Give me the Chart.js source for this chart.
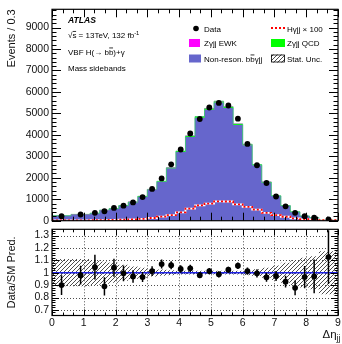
<!DOCTYPE html>
<html><head><meta charset="utf-8">
<script src="https://cdn.jsdelivr.net/npm/chart.js@4"></script>
<style>
html,body{margin:0;padding:0;background:#fff;width:342px;height:344px;overflow:hidden}
canvas{position:absolute;left:0}
#c1{top:0}#c2{top:220px}
</style></head><body>
<canvas id="c1" width="342" height="230"></canvas>
<canvas id="c2" width="342" height="124"></canvas>
<script>
// ---- data ----
const binEdges = [0,0.6,1.2,1.5,1.8,2.1,2.4,2.7,3.0,3.3,3.6,3.9,4.2,4.5,4.8,5.1,5.4,5.7,6.0,6.3,6.6,6.9,7.2,7.5,7.8,8.1,8.4,9.0];
const dataEvents = [211,289,367,440,596,702,853,1100,1482,1972,2628,3317,4064,4739,5275,5486,5367,4752,3578,2583,1757,1128,670,367,211,138,60];
const nonReson = [229,289,344,484,562,693,863,1121,1439,1813,2440,3203,3904,4793,5168,5504,5247,4457,3520,2583,1784,1148,694,409,218,137,53];
const zgQCD = [4,5,6,8,9,11,13,16,20,25,32,40,48,58,62,66,63,54,43,32,22,14,9,5,3,2,1];
const zgEWK = [1,1,1,2,2,2,3,3,4,5,6,7,8,9,10,10,10,9,7,5,4,3,2,1,1,1,0];
const higgsX100 = [15,18,22,28,35,45,60,85,125,190,257,385,560,716,800,900,895,761,642,518,367,257,183,105,73,60,30];
const ratio = [0.90,0.98,1.045,0.89,1.04,0.995,0.97,0.965,1.013,1.07,1.06,1.03,1.035,0.98,1.013,0.987,1.024,1.056,1.013,0.995,0.963,0.973,0.928,0.878,0.965,0.97,1.126];
const ratioErr = [0.08,0.076,0.1,0.073,0.073,0.063,0.05,0.04,0.04,0.036,0.033,0.03,0.03,0.025,0.025,0.025,0.025,0.027,0.03,0.033,0.036,0.04,0.047,0.06,0.09,0.136,0.217];
const statUnc = [0.11,0.11,0.1,0.09,0.08,0.065,0.05,0.04,0.03,0.025,0.02,0.015,0.015,0.015,0.015,0.015,0.015,0.015,0.02,0.027,0.04,0.058,0.08,0.1,0.12,0.133,0.173];
const xTickLabels = [0,1,2,3,4,5,6,7,8,9];
const yTickLabels = [0,1000,2000,3000,4000,5000,6000,7000,8000,9000];
const ratioTickLabels = [0.7,0.8,0.9,1,1.1,1.2,1.3];

// ---- styling ----
const FONT = '"Liberation Sans", Arial, Helvetica, sans-serif';
const BLUE = '#6666cc';
const N = binEdges.length - 1;
const centers = binEdges.slice(0, N).map((e, i) => (e + binEdges[i + 1]) / 2);
function histPts(vals) {
  const pts = vals.map((v, i) => ({x: binEdges[i], y: v}));
  pts.push({x: binEdges[N], y: vals[N - 1]});
  return pts;
}
const cumQCD = nonReson.map((v, i) => v + zgQCD[i]);
const cumEWK = cumQCD.map((v, i) => v + zgEWK[i]);

function makeHatch(ctx) {
  const pc = document.createElement('canvas');
  pc.width = 4; pc.height = 4;
  const p = pc.getContext('2d');
  p.strokeStyle = '#3a3a3a'; p.lineWidth = 0.9;
  p.beginPath();
  p.moveTo(0, 4); p.lineTo(4, 0);
  p.moveTo(-1, 1); p.lineTo(1, -1);
  p.moveTo(3, 5); p.lineTo(5, 3);
  p.stroke();
  return ctx.createPattern(pc, 'repeat');
}

function rich(ctx, x, base, parts, size) {
  let cx = x;
  for (const p of parts) {
    const fs = (p.sup || p.sub) ? size * 0.72 : size;
    ctx.font = (p.italic ? 'italic ' : '') + (p.bold ? 'bold ' : '') + fs + 'px ' + FONT;
    const dy = p.sup ? -size * 0.42 : (p.sub ? size * 0.28 : 0);
    ctx.fillText(p.t, cx, base + dy);
    const w = ctx.measureText(p.t).width;
    if (p.bar) {
      ctx.save(); ctx.strokeStyle = ctx.fillStyle; ctx.lineWidth = 0.8;
      ctx.beginPath(); ctx.moveTo(cx + 0.3, base - size * 0.82); ctx.lineTo(cx + w - 0.3, base - size * 0.82); ctx.stroke();
      ctx.restore();
    }
    cx += w;
  }
  return cx;
}

function frameTicks(cfg) {
  return {
    id: 'frameTicks',
    beforeDatasetsDraw(chart) {
      if (!cfg.grid) return;
      const {ctx, chartArea: a, scales: {x, y}} = chart;
      ctx.save();
      ctx.strokeStyle = '#000'; ctx.lineWidth = 0.7; ctx.setLineDash([1, 2]);
      ctx.beginPath();
      for (const v of xTickLabels) {
        if (v <= x.min || v >= x.max) continue;
        const px = Math.round(x.getPixelForValue(v)) + 0.5;
        ctx.moveTo(px, a.top); ctx.lineTo(px, a.bottom);
      }
      for (const v of ratioTickLabels) {
        const py = Math.round(y.getPixelForValue(v)) + 0.5;
        ctx.moveTo(a.left, py); ctx.lineTo(a.right, py);
      }
      ctx.stroke();
      ctx.restore();
    },
    afterDatasetsDraw(chart) {
      const {ctx, chartArea: a, scales: {x, y}} = chart;
      ctx.save();
      ctx.strokeStyle = '#000'; ctx.lineWidth = 1;
      ctx.beginPath();
      for (let k = 0; k <= 27; k++) {
        const v = k / 3;
        const px = Math.round(x.getPixelForValue(v)) + 0.5;
        const L = (k % 3 === 0) ? cfg.xL : cfg.xl;
        ctx.moveTo(px, a.bottom); ctx.lineTo(px, a.bottom - L);
        ctx.moveTo(px, a.top); ctx.lineTo(px, a.top + L);
      }
      for (const t of cfg.yTicks(y)) {
        const py = Math.round(y.getPixelForValue(t.v)) + 0.5;
        const L = t.major ? cfg.yL : cfg.yl;
        ctx.moveTo(a.left, py); ctx.lineTo(a.left + L, py);
        ctx.moveTo(a.right, py); ctx.lineTo(a.right - L, py);
      }
      ctx.stroke();
      ctx.lineWidth = 1.2;
      ctx.strokeRect(a.left, a.top, a.right - a.left, a.bottom - a.top);
      ctx.restore();
    }
  };
}

// ---------- main panel ----------
const c1 = document.getElementById('c1').getContext('2d');
const hatch1 = makeHatch(c1);

const infoPlugin = {
  id: 'info',
  afterDraw(chart) {
    const ctx = chart.ctx;
    ctx.save();
    ctx.fillStyle = '#000';
    ctx.textBaseline = 'alphabetic';
    ctx.textAlign = 'left';
    // ATLAS block
    rich(ctx, 68, 23, [{t: 'ATLAS', bold: true, italic: true}], 8.6);
    let cx = rich(ctx, 68, 38, [{t: '\u221A'}], 8);
    rich(ctx, cx, 38, [{t: 's', bar: true}, {t: ' = 13TeV, 132 fb'}, {t: '-1', sup: true}], 8);
    rich(ctx, 68, 54.5, [{t: 'VBF H(\u2192 b'}, {t: 'b', bar: true}, {t: ')+\u03B3'}], 8);
    rich(ctx, 68, 71, [{t: 'Mass sidebands'}], 8);
    // legend
    const r1 = 28.5, r2 = 43, r3 = 58.5;
    ctx.beginPath(); ctx.arc(196, r1, 2.8, 0, Math.PI * 2); ctx.fill();
    rich(ctx, 204, r1 + 3, [{t: 'Data'}], 8);
    ctx.fillStyle = '#ff00ff'; ctx.fillRect(189, r2 - 4, 11, 8);
    ctx.fillStyle = '#000';
    rich(ctx, 204, r2 + 3, [{t: 'Z\u03B3jj EWK'}], 8);
    ctx.fillStyle = BLUE; ctx.fillRect(189, r3 - 4, 12, 8);
    ctx.fillStyle = '#000';
    rich(ctx, 204, r3 + 3, [{t: 'Non-reson. b'}, {t: 'b', bar: true}, {t: '\u03B3jj'}], 8);
    // right column
    ctx.save();
    ctx.strokeStyle = '#ffffff'; ctx.lineWidth = 2;
    ctx.beginPath(); ctx.moveTo(271, r1 - 0.5); ctx.lineTo(285, r1 - 0.5); ctx.stroke();
    ctx.strokeStyle = '#ff0000'; ctx.setLineDash([2, 2]);
    ctx.beginPath(); ctx.moveTo(271, r1 - 0.5); ctx.lineTo(285, r1 - 0.5); ctx.stroke();
    ctx.restore();
    rich(ctx, 287, r1 + 3, [{t: 'H\u03B3jj \u00D7 100'}], 8);
    ctx.fillStyle = '#00ff00'; ctx.fillRect(271, r2 - 4, 14, 8);
    ctx.fillStyle = '#000';
    rich(ctx, 287, r2 + 3, [{t: 'Z\u03B3jj QCD'}], 8);
    ctx.fillStyle = hatch1; ctx.fillRect(271, r3 - 4, 14, 8);
    ctx.strokeStyle = '#000'; ctx.lineWidth = 0.8; ctx.strokeRect(271.5, r3 - 3.5, 13, 7);
    ctx.fillStyle = '#000';
    rich(ctx, 287, r3 + 3, [{t: 'Stat. Unc.'}], 8);
    ctx.restore();
  }
};

new Chart(c1, {
  type: 'line',
  data: {
    datasets: [
      {label: 'Data', data: centers.map((c, i) => ({x: c, y: dataEvents[i]})), showLine: false,
       pointRadius: 2.9, pointBackgroundColor: '#000', pointBorderWidth: 0, borderColor: '#000'},
      {label: 'Hyjj red', data: histPts(higgsX100), stepped: true, fill: false, borderColor: '#ff0000',
       borderDash: [2, 2], borderWidth: 1.8, pointRadius: 0},
      {label: 'Hyjj white', data: histPts(higgsX100), stepped: true, fill: false, borderColor: '#ffffff',
       borderWidth: 1.8, pointRadius: 0},
      {label: 'Zyjj EWK', data: histPts(cumEWK), stepped: true, fill: '+1', backgroundColor: '#ff00ff',
       borderWidth: 0, borderColor: '#ff00ff', pointRadius: 0},
      {label: 'Zyjj QCD', data: histPts(cumQCD), stepped: true, fill: '+1', backgroundColor: '#00ff00',
       borderColor: '#33cc66', borderWidth: 0.8, pointRadius: 0},
      {label: 'Non-reson', data: histPts(nonReson), stepped: true, fill: 'origin', backgroundColor: BLUE,
       borderColor: BLUE, borderWidth: 0.5, pointRadius: 0}
    ]
  },
  options: {
    responsive: false, animation: false, devicePixelRatio: 1,
    layout: {padding: {left: 0, right: 4, top: 7, bottom: 4}},
    plugins: {legend: {display: false}, tooltip: {enabled: false}},
    scales: {
      x: {type: 'linear', min: 0, max: 9, display: false},
      y: {
        type: 'linear', min: 0, max: 9850,
        afterFit(s) { s.width = 52; },
        afterBuildTicks(s) { s.ticks = yTickLabels.map(v => ({value: v})); },
        grid: {display: false, drawTicks: false, tickLength: 0}, border: {display: false},
        ticks: {color: '#111', padding: 3, autoSkip: false, font: {family: FONT, size: 10.5},
                callback: (v) => String(v)},
        title: {display: true, text: 'Events / 0.3', align: 'end', color: '#111',
                font: {family: FONT, size: 11}, padding: {top: 5.5, bottom: 0}}
      }
    }
  },
  plugins: [frameTicks({
    grid: false, xL: 8, xl: 4, yL: 9, yl: 4.5,
    yTicks() { const t = []; for (let k = 0; k <= 49; k++) t.push({v: k * 200, major: k % 5 === 0}); return t; }
  }), infoPlugin]
});

// ---------- ratio panel ----------
const c2 = document.getElementById('c2').getContext('2d');
const hatch2 = makeHatch(c2);

const ratioPlugin = {
  id: 'ratioExtras',
  beforeDatasetDraw(chart, args) {
    if (args.index !== 0) return;
    const {ctx, chartArea: a, scales: {x, y}} = chart;
    ctx.save();
    ctx.beginPath(); ctx.rect(a.left, a.top, a.right - a.left, a.bottom - a.top); ctx.clip();
    ctx.strokeStyle = '#1f22e6'; ctx.lineWidth = 1.6;
    const py = y.getPixelForValue(1);
    ctx.beginPath(); ctx.moveTo(a.left, py); ctx.lineTo(a.right, py); ctx.stroke();
    ctx.strokeStyle = '#000'; ctx.lineWidth = 1.5;
    ctx.beginPath();
    centers.forEach((c, i) => {
      const px = x.getPixelForValue(c);
      ctx.moveTo(px, y.getPixelForValue(ratio[i] - ratioErr[i]));
      ctx.lineTo(px, y.getPixelForValue(ratio[i] + ratioErr[i]));
    });
    ctx.stroke();
    ctx.restore();
  },
  afterDraw(chart) {
    const ctx = chart.ctx;
    ctx.save();
    ctx.fillStyle = '#111';
    ctx.textBaseline = 'alphabetic';
    rich(ctx, 322.5, 118, [{t: '\u0394\u03B7'}, {t: 'jj', sub: true}], 11.5);
    ctx.restore();
  }
};

new Chart(c2, {
  type: 'line',
  data: {
    datasets: [
      {label: 'Data/SM', data: centers.map((c, i) => ({x: c, y: ratio[i]})), showLine: false,
       pointRadius: 2.9, pointBackgroundColor: '#000', pointBorderWidth: 0, borderColor: '#000'},
      {label: 'unc up', data: histPts(statUnc.map(u => 1 + u)), stepped: true, fill: '+1',
       backgroundColor: hatch2, borderWidth: 0, borderColor: 'rgba(0,0,0,0)', pointRadius: 0},
      {label: 'unc down', data: histPts(statUnc.map(u => 1 - u)), stepped: true, fill: false,
       borderWidth: 0, borderColor: 'rgba(0,0,0,0)', pointRadius: 0}
    ]
  },
  options: {
    responsive: false, animation: false, devicePixelRatio: 1,
    layout: {padding: {left: 0, right: 4, top: 2, bottom: 0}},
    plugins: {legend: {display: false}, tooltip: {enabled: false}},
    scales: {
      x: {
        type: 'linear', min: 0, max: 9,
        afterFit(s) { s.height = 28.5; },
        afterBuildTicks(s) { s.ticks = xTickLabels.map(v => ({value: v})); },
        grid: {display: false, drawTicks: false, tickLength: 0}, border: {display: false},
        ticks: {color: '#111', padding: 1, maxRotation: 0, autoSkip: false, font: {family: FONT, size: 10.5}}
      },
      y: {
        type: 'linear', min: 0.655, max: 1.35,
        afterFit(s) { s.width = 52; },
        afterBuildTicks(s) { s.ticks = ratioTickLabels.map(v => ({value: v})); },
        grid: {display: false, drawTicks: false, tickLength: 0}, border: {display: false},
        ticks: {color: '#111', padding: 3, autoSkip: false, font: {family: FONT, size: 10.5},
                callback: (v) => String(Math.round(v * 10) / 10)},
        title: {display: true, text: 'Data/SM Pred.', color: '#111',
                font: {family: FONT, size: 11}, padding: {top: 5.5, bottom: 0}}
      }
    }
  },
  plugins: [frameTicks({
    grid: true, xL: 6, xl: 3, yL: 7, yl: 3.5,
    yTicks() { const t = []; for (let h = 66; h <= 134; h += 2) t.push({v: h / 100, major: h % 10 === 0}); return t; }
  }), ratioPlugin]
});
</script>
</body></html>
